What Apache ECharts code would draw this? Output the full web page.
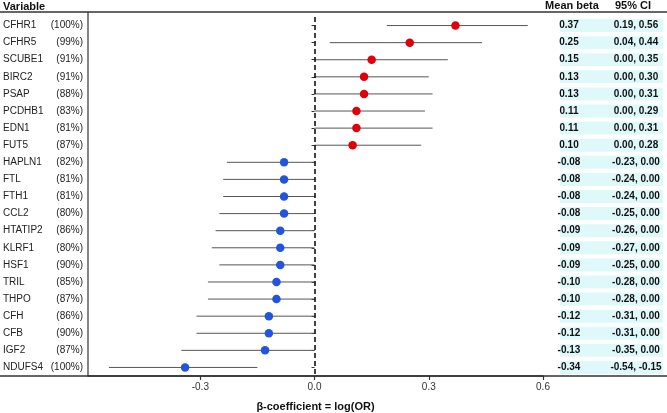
<!DOCTYPE html>
<html>
<head>
<meta charset="utf-8">
<script src="https://cdn.jsdelivr.net/npm/echarts@6/dist/echarts.min.js"></script>
<style>
  html, body { margin: 0; padding: 0; background: #fff; }
  #myChart { width: 667px; height: 413px; }
</style>
</head>
<body>
<div id="myChart"></div>
<script>
  // 数据
  const genes = ['CFHR1', 'CFHR5', 'SCUBE1', 'BIRC2', 'PSAP', 'PCDHB1', 'EDN1', 'FUT5',
    'HAPLN1', 'FTL', 'FTH1', 'CCL2', 'HTATIP2', 'KLRF1', 'HSF1', 'TRIL', 'THPO',
    'CFH', 'CFB', 'IGF2', 'NDUFS4']
  const freq = ['100%', '99%', '91%', '91%', '88%', '83%', '81%', '87%',
    '82%', '81%', '81%', '80%', '86%', '80%', '90%', '85%', '87%',
    '86%', '90%', '87%', '100%']
  const beta = [0.37, 0.25, 0.15, 0.13, 0.13, 0.11, 0.11, 0.10,
    -0.08, -0.08, -0.08, -0.08, -0.09, -0.09, -0.09, -0.10, -0.10,
    -0.12, -0.12, -0.13, -0.34]
  const ciLow = [0.19, 0.04, 0.00, 0.00, 0.00, 0.00, 0.00, 0.00,
    -0.23, -0.24, -0.24, -0.25, -0.26, -0.27, -0.25, -0.28, -0.28,
    -0.31, -0.31, -0.35, -0.54]
  const ciHigh = [0.56, 0.44, 0.35, 0.30, 0.31, 0.29, 0.31, 0.28,
    0.00, 0.00, 0.00, 0.00, 0.00, 0.00, 0.00, 0.00, 0.00,
    0.00, 0.00, 0.00, -0.15]
  const xTicks = [-0.3, 0, 0.3, 0.6]

  const font = "'Liberation Sans', Arial, sans-serif"
  const fmt = v => (Math.abs(v) < 1e-9 ? 0 : v).toFixed(2)

  let myChart = echarts.init(document.getElementById('myChart'))
  myChart.setOption({
    animation: false,
    textStyle: { fontFamily: font },
    grid: [
      { left: 88, right: 124, top: 17, bottom: 37, outerBoundsMode: 'none', containLabel: false },
      { left: 553, right: 0, top: 17, bottom: 37, outerBoundsMode: 'none', containLabel: false }
    ],
    xAxis: [
      {
        type: 'value',
        gridIndex: 0,
        min: -0.595,
        max: 0.6,
        splitLine: { show: false },
        axisLine: { show: true, lineStyle: { color: '#333', width: 1.5 } },
        axisTick: {
          show: true,
          length: 4,
          customValues: xTicks,
          lineStyle: { color: '#333', width: 1.2 }
        },
        axisLabel: {
          customValues: xTicks,
          margin: 6,
          fontSize: 10,
          color: '#333',
          formatter: v => v.toFixed(1)
        },
        name: 'β-coefficient = log(OR)',
        nameLocation: 'middle',
        nameGap: 25,
        nameTextStyle: { fontSize: 11, fontWeight: 'bold', color: '#111' }
      },
      { type: 'value', gridIndex: 1, min: 0, max: 1, show: false }
    ],
    yAxis: [
      {
        type: 'category',
        gridIndex: 0,
        inverse: true,
        data: genes,
        axisLine: { show: false },
        axisTick: {
          show: true,
          alignWithLabel: true,
          length: 3,
          lineStyle: { color: '#333' }
        },
        axisLabel: {
          margin: 5,
          formatter: (v, i) => '{n|' + v + '}{p|(' + freq[i] + ')}',
          rich: {
            n: { width: 50, align: 'left', fontSize: 10, color: '#222', fontFamily: font },
            p: { width: 30, align: 'right', fontSize: 10, color: '#222', fontFamily: font }
          }
        }
      },
      { type: 'category', gridIndex: 1, inverse: true, data: genes, show: false }
    ],
    graphic: [
      { type: 'line', shape: { x1: 0, y1: 12, x2: 667, y2: 12 }, style: { stroke: '#333', lineWidth: 1.5 } },
      { type: 'line', shape: { x1: 0, y1: 376, x2: 667, y2: 376 }, style: { stroke: '#333', lineWidth: 1.5 } },
      { type: 'line', shape: { x1: 88, y1: 12, x2: 88, y2: 376 }, style: { stroke: '#333', lineWidth: 1.2 } },
      { type: 'text', left: 3, top: 1, style: { text: 'Variable', font: 'bold 11px ' + font, fill: '#111' } },
      { type: 'text', x: 572, y: 6, style: { text: 'Mean beta', font: 'bold 11px ' + font, fill: '#111', align: 'center', verticalAlign: 'middle' } },
      { type: 'text', x: 633, y: 6, style: { text: '95% CI', font: 'bold 11px ' + font, fill: '#111', align: 'center', verticalAlign: 'middle' } }
    ],
    series: [
      {
        // 置信区间
        type: 'custom',
        xAxisIndex: 0,
        yAxisIndex: 0,
        data: genes.map((g, i) => [ciLow[i], ciHigh[i], i]),
        encode: { x: [0, 1], y: 2 },
        renderItem: (params, api) => {
          const p1 = api.coord([api.value(0), api.value(2)])
          const p2 = api.coord([api.value(1), api.value(2)])
          return {
            type: 'line',
            shape: { x1: p1[0], y1: p1[1], x2: p2[0], y2: p2[1] },
            style: { stroke: '#555', lineWidth: 1 }
          }
        },
        z: 2
      },
      {
        type: 'scatter',
        xAxisIndex: 0,
        yAxisIndex: 0,
        symbolSize: 8.5,
        data: genes.map((g, i) => ({
          value: [beta[i], i],
          itemStyle: { color: beta[i] > 0 ? '#e0000b' : '#2254dc', opacity: 1 }
        })),
        markLine: {
          silent: true,
          symbol: 'none',
          label: { show: false },
          lineStyle: { color: '#000', type: [5, 3], width: 1.5 },
          data: [{ xAxis: 0 }]
        },
        z: 3
      },
      {
        // 右侧表格
        type: 'custom',
        xAxisIndex: 1,
        yAxisIndex: 1,
        data: genes.map((g, i) => [0, i]),
        encode: { x: 0, y: 1 },
        renderItem: (params, api) => {
          const i = params.dataIndex
          const c = api.coord([0, i])
          const y = c[1]
          return {
            type: 'group',
            children: [
              { type: 'rect', shape: { x: 560, y: y - 6.5, width: 103, height: 13 }, style: { fill: '#dff9fb' } },
              { type: 'text', style: { x: 569, y: y, text: fmt(beta[i]), font: 'bold 10px ' + font, fill: '#111', align: 'center', verticalAlign: 'middle' } },
              { type: 'text', style: { x: 636, y: y, text: fmt(ciLow[i]) + ', ' + fmt(ciHigh[i]), font: 'bold 10px ' + font, fill: '#111', align: 'center', verticalAlign: 'middle' } }
            ]
          }
        }
      }
    ]
  })
  window.addEventListener('resize', () => {
    myChart.resize()
  })
</script>
</body>
</html>
